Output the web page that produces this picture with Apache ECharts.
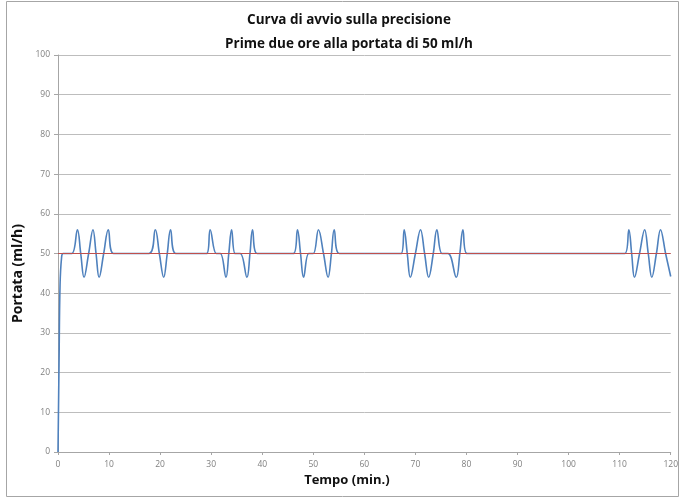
<!DOCTYPE html>
<html>
<head>
<meta charset="utf-8">
<script src="https://cdn.jsdelivr.net/npm/echarts@6/dist/echarts.min.js"></script>
<style>
html,body{margin:0;padding:0;background:#fff;}
#c{width:681px;height:498px;}
</style>
</head>
<body>
<div id="c"></div>
<script>
// ---- data ----
var titleLines = ['Curva di avvio sulla precisione', 'Prime due ore alla portata di 50 ml/h'];
var xName = 'Tempo (min.)';
var yName = 'Portata (ml/h)';
var xTicks = [0,10,20,30,40,50,60,70,80,90,100,110,120];
var yTicks = [0,10,20,30,40,50,60,70,80,90,100];

// measured flow (blue)
var flowTime = [
  0, 0.2, 0.4, 0.7, 1.0, 2.7,
  3.8, 4.45, 5.1, 6.0, 6.85, 7.45, 8.05, 8.95, 9.85, 10.9,
  17.8, 19.05, 19.85, 20.7, 21.4, 22.05, 23.1,
  29.1, 29.8, 31.0, 31.8, 32.9, 33.45, 34.0, 34.7, 35.7, 37.0, 37.6, 38.1, 39.0,
  46.1, 46.9, 47.5, 48.1, 49.1, 50.0, 51.0, 52.0, 52.9, 53.55, 54.1, 55.1,
  67.2, 67.8, 68.4, 69.0, 70.0, 71.0, 71.8, 72.6, 73.5, 74.2, 75.2, 76.4, 78.0, 78.7, 79.3, 80.1,
  111.0, 111.8, 112.35, 112.9, 113.9, 114.9, 115.6, 116.3, 117.2, 118.0, 119.0, 120
];
var flowValue = [
  0, 22, 42, 49, 50, 50,
  56, 50, 44, 50, 56, 50, 44, 50, 56, 50,
  50, 56, 50, 44, 50, 56, 50,
  50, 56, 50, 50, 44, 50, 56, 50, 50, 44, 50, 56, 50,
  50, 56, 50, 44, 50, 50, 56, 50, 44, 50, 56, 50,
  50, 56, 50, 44, 50, 56, 50, 44, 50, 56, 50, 50, 44, 50, 56, 50,
  50, 56, 50, 44, 50, 56, 50, 44, 50, 56, 50, 44.2
];

// set rate (red)
var setTime = [0, 120];
var setValue = [50, 50];

function pairs(xs, ys){ return xs.map(function(x,i){ return [x, ys[i]]; }); }

var chart = echarts.init(document.getElementById('c'), null, {renderer:'canvas'});
var labelStyle = {fontFamily:'Open Sans', fontSize:8.5, color:'#808080'};
var nameFont = {fontFamily:'Open Sans', fontSize:13, fontWeight:'bold', color:'#111'};

chart.setOption({
  animation:false,
  backgroundColor:'#fff',
  graphic:[{
    type:'rect', shape:{x:6.5, y:1.5, width:672, height:495},
    style:{fill:'none', stroke:'#a6a6a6', lineWidth:1}, silent:true, z:-1
  }],
  title:{
    text: titleLines.join('\n'),
    left: 344, top: 3, textAlign:'center',
    textStyle:{fontFamily:'Open Sans', fontSize:13.5, fontWeight:'bold', color:'#111', lineHeight:24}
  },
  grid:{left:58, right:10, top:55, bottom:46, containLabel:false},
  xAxis:{
    type:'value', min:xTicks[0], max:xTicks[xTicks.length-1], interval:10,
    name:xName, nameLocation:'middle', nameGap:20,
    nameTextStyle: Object.assign({padding:[0,35,0,0]}, nameFont),
    axisLine:{lineStyle:{color:'#a6a6a6', width:1}},
    axisTick:{show:true, length:3, lineStyle:{color:'#a6a6a6'}},
    axisLabel: Object.assign({margin:8}, labelStyle),
    splitLine:{show:false}
  },
  yAxis:{
    type:'value', min:yTicks[0], max:yTicks[yTicks.length-1], interval:10,
    name:yName, nameLocation:'middle', nameGap:26, nameRotate:90,
    nameTextStyle: Object.assign({padding:[0,40,0,0]}, nameFont, {fontSize:14}),
    axisLine:{show:true, lineStyle:{color:'#a6a6a6', width:1}},
    axisTick:{show:true, length:4, lineStyle:{color:'#a6a6a6'}},
    axisLabel: Object.assign({margin:8}, labelStyle),
    splitLine:{show:true, lineStyle:{color:'#bdbdbd', width:1}}
  },
  series:[
    {
      type:'line', name:'Flow', data:pairs(flowTime, flowValue),
      showSymbol:false, symbol:'none', smooth:0.4,
      lineStyle:{color:'#4f81bd', width:1.6}, z:2
    },
    {
      type:'line', name:'Set', data:pairs(setTime, setValue),
      showSymbol:false, symbol:'none',
      lineStyle:{color:'#c0504d', width:1}, z:5
    }
  ]
});
</script>
</body>
</html>
